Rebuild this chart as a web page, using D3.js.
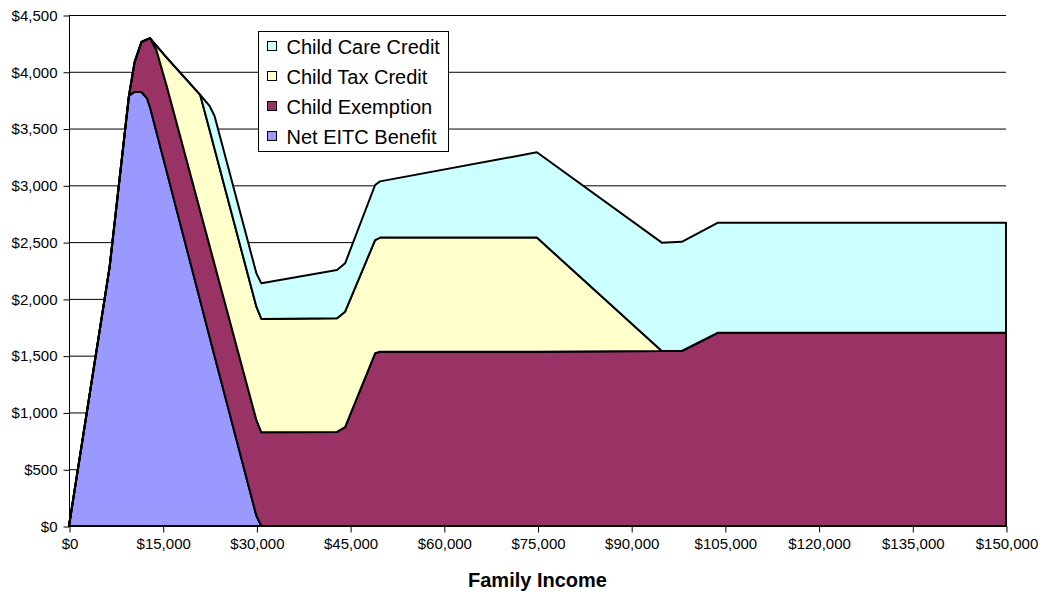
<!DOCTYPE html>
<html>
<head>
<meta charset="utf-8">
<script src="https://cdn.jsdelivr.net/npm/d3@7"></script>
<style>
  body { margin: 0; background: #fff; }
  svg { display: block; font-family: "Liberation Sans", Arial, sans-serif; }
</style>
</head>
<body>
<svg id="chart" width="1044" height="596"></svg>
<script>
// values (income in $)
const income = [0, 6500, 9600, 10500, 11600, 12500, 13000, 14000, 15600, 21000, 22500, 23300,
  30000, 30800, 42900, 44200, 49000, 49800, 74900, 94900, 98100, 103900, 150000];
const netEitc = [0, 2280, 3790, 3822, 3822, 3765, 3681, 3469, 3130, 1985, 1667, 1497,
  90, 0, 0, 0, 0, 0, 0, 0, 0, 0, 0];
const childExemption = [0, 0, 0, 263, 440, 520, 614, 721, 753, 792, 802, 808,
  843, 825, 828, 870, 1521, 1535, 1535, 1541, 1541, 1702, 1702];
const childTaxCredit = [0, 0, 0, 0, 0, 0, 0, 39, 244, 1020, 1020, 1017,
  998, 998, 1001, 1017, 997, 1005, 1005, 0, 0, 0, 0];
const childCareCredit = [0, 0, 0, 0, 0, 0, 0, 0, 0, 0, 211, 288,
  294, 314, 425, 426, 485, 495, 751, 954, 962, 969, 969];

const seriesNames = ["Net EITC Benefit", "Child Exemption", "Child Tax Credit", "Child Care Credit"];
const seriesColors = ["#9999ff", "#993366", "#ffffcc", "#ccffff"];
const xTicks = d3.range(0, 150001, 15000);
const yTicks = d3.range(0, 4501, 500);

const plotLeft = 69, plotRight = 1006, plotTop = 15, plotBottom = 526;

const svg = d3.select("#chart");

const x = d3.scaleLinear().domain([0, 150000]).range([plotLeft, plotRight]);
const y = d3.scaleLinear().domain([0, 4500]).range([plotBottom, plotTop]);

// build rows for the stack
const rows = income.map((v, i) => ({
  income: v,
  "Net EITC Benefit": netEitc[i],
  "Child Exemption": childExemption[i],
  "Child Tax Credit": childTaxCredit[i],
  "Child Care Credit": childCareCredit[i]
}));

const layers = d3.stack().keys(seriesNames)(rows);

// gridlines
svg.append("g")
  .selectAll("line")
  .data(yTicks.filter(d => d > 0))
  .enter()
  .append("line")
  .attr("x1", plotLeft)
  .attr("x2", plotRight)
  .attr("y1", d => y(d) + 0.5)
  .attr("y2", d => y(d) + 0.5)
  .attr("stroke", "#000")
  .attr("stroke-width", 1);

// areas
const area = d3.area()
  .x(d => x(d.data.income))
  .y0(d => y(d[0]))
  .y1(d => y(d[1]));

svg.append("g")
  .selectAll("path")
  .data(layers)
  .enter()
  .append("path")
  .attr("d", area)
  .attr("fill", (d, i) => seriesColors[i])
  .attr("stroke", "#000")
  .attr("stroke-width", 2)
  .attr("stroke-linejoin", "round");

// axes
const fmt = d3.format("$,");

const yG = svg.append("g")
  .attr("transform", `translate(${plotLeft + 0.5},0.5)`)
  .call(d3.axisLeft(y).tickValues(yTicks).tickSize(6).tickPadding(6).tickFormat(fmt));

const xG = svg.append("g")
  .attr("transform", `translate(0.5,${plotBottom + 0.5})`)
  .call(d3.axisBottom(x).tickValues(xTicks).tickSize(6).tickPadding(6).tickFormat(fmt));

[yG, xG].forEach(g => {
  g.selectAll("path").attr("stroke", "#000");
  g.selectAll("line").attr("stroke", "#000");
  g.selectAll("text")
    .attr("font-family", "'Liberation Sans', Arial, sans-serif")
    .attr("font-size", 15)
    .attr("fill", "#000");
});
yG.selectAll("path").attr("d", `M0,${plotTop}V${plotBottom}`);
xG.selectAll("path").attr("d", `M${plotLeft},0H${plotRight}`);

// axis title
svg.append("text")
  .attr("x", (plotLeft + plotRight) / 2)
  .attr("y", 587)
  .attr("text-anchor", "middle")
  .attr("font-size", 20)
  .attr("font-weight", "bold")
  .text("Family Income");

// legend, top series first like the original
const legend = svg.append("g").attr("transform", "translate(258.5,31.5)");
legend.append("rect")
  .attr("width", 190)
  .attr("height", 120)
  .attr("fill", "#fff")
  .attr("stroke", "#000");

const legendItems = legend.selectAll("g.item")
  .data(seriesNames.slice().reverse())
  .enter()
  .append("g")
  .attr("class", "item")
  .attr("transform", (d, i) => `translate(0,${15 + i * 30})`);

legendItems.append("rect")
  .attr("x", 9)
  .attr("y", -5)
  .attr("width", 9)
  .attr("height", 9)
  .attr("fill", d => seriesColors[seriesNames.indexOf(d)])
  .attr("stroke", "#000");

legendItems.append("text")
  .attr("x", 28)
  .attr("y", 7)
  .attr("font-size", 20)
  .text(d => d);
</script>
</body>
</html>
